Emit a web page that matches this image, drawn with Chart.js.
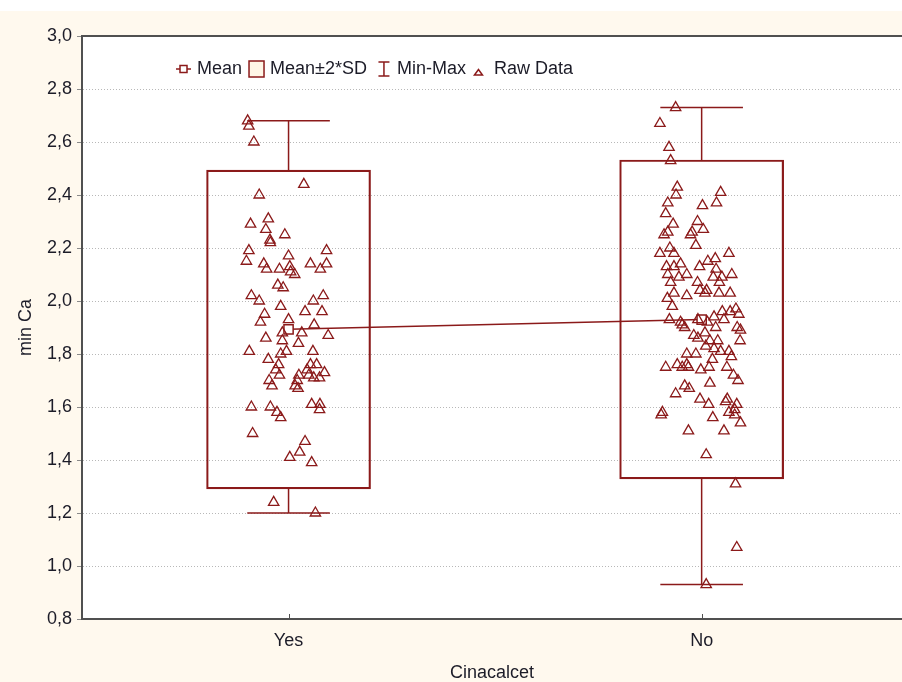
<!DOCTYPE html>
<html>
<head>
<meta charset="utf-8">
<script src="https://cdn.jsdelivr.net/npm/chart.js@4.4.1/dist/chart.umd.min.js"></script>
<style>
html, body { margin: 0; padding: 0; background: #fff; }
#wrap { position: absolute; left: 0; top: 11px; width: 902px; height: 671px; background: #fff9ee; }
</style>
</head>
<body>
<div id="wrap"><canvas id="chart"></canvas></div>
<script>
// summary values per group
var categories = ['Yes', 'No'];
var means = [1.893, 1.930];
var sdLow = [1.291, 1.329];    // mean - 2*SD
var sdHigh = [2.494, 2.532];   // mean + 2*SD
var minValues = [1.20, 0.93];
var maxValues = [2.68, 2.73];

// raw data: horizontal jitter (in category units) and value
var yesJitter = [-0.099, -0.096, -0.084, 0.037, -0.071, -0.092, -0.049, -0.055, -0.009, -0.045,
    -0.044, -0.096, 0.092, -0.102, 0.000, -0.060, -0.053, -0.022, 0.003, 0.005,
    0.015, 0.053, 0.077, 0.092, -0.026, -0.013, -0.090, -0.071, 0.084, 0.060,
    -0.019, -0.058, 0.040, 0.081, -0.068, 0.000, 0.062, 0.032, 0.096, -0.015,
    -0.015, -0.055, 0.024, -0.095, -0.005, -0.019, 0.059, -0.049, -0.024, 0.053,
    0.068, -0.031, -0.022, 0.045, 0.025, 0.049, 0.061, 0.075, 0.087, -0.047,
    -0.040, 0.021, 0.016, 0.023, -0.090, -0.044, -0.028, -0.019, 0.056, 0.076,
    0.075, -0.087, 0.040, 0.027, 0.003, 0.056, -0.036, 0.065];
var yesValues = [2.68, 2.66, 2.60, 2.44, 2.40, 2.29, 2.31, 2.27, 2.25, 2.23,
    2.22, 2.19, 2.19, 2.15, 2.17, 2.14, 2.12, 2.12, 2.13, 2.11,
    2.10, 2.14, 2.12, 2.14, 2.06, 2.05, 2.02, 2.00, 2.02, 2.00,
    1.98, 1.95, 1.96, 1.96, 1.92, 1.93, 1.91, 1.88, 1.87, 1.88,
    1.85, 1.86, 1.84, 1.81, 1.81, 1.80, 1.81, 1.78, 1.76, 1.76,
    1.76, 1.74, 1.72, 1.74, 1.72, 1.72, 1.71, 1.71, 1.73, 1.70,
    1.68, 1.70, 1.68, 1.67, 1.60, 1.60, 1.58, 1.56, 1.61, 1.61,
    1.59, 1.50, 1.47, 1.43, 1.41, 1.39, 1.24, 1.20];

var noJitter = [-0.063, -0.101, -0.079, -0.075, -0.059, -0.062, 0.046, 0.036, -0.082, 0.002,
    -0.087, -0.010, -0.069, -0.082, -0.091, -0.023, 0.004, -0.027, -0.014, -0.101,
    -0.077, -0.067, 0.066, -0.085, -0.067, -0.051, -0.005, 0.015, 0.033, 0.035,
    0.073, -0.082, -0.055, -0.036, 0.028, 0.049, -0.010, -0.075, 0.043, -0.067,
    -0.083, -0.036, -0.004, 0.012, 0.008, 0.042, 0.069, -0.071, -0.078, -0.051,
    -0.047, -0.041, -0.009, 0.014, 0.030, 0.034, 0.050, 0.054, 0.069, 0.083,
    0.090, 0.086, 0.094, 0.093, -0.019, -0.009, 0.008, 0.020, 0.039, 0.010,
    0.030, 0.046, 0.066, 0.072, -0.036, -0.014, 0.026, -0.087, -0.059, -0.047,
    -0.032, -0.036, -0.002, 0.018, 0.061, 0.077, 0.088, 0.020, -0.041, -0.030,
    -0.063, -0.004, 0.017, 0.062, 0.058, 0.085, 0.080, 0.066, 0.080, 0.094,
    -0.095, -0.098, 0.027, -0.032, 0.054, 0.011, 0.082, 0.085, 0.011];
var noValues = [2.73, 2.67, 2.58, 2.53, 2.43, 2.40, 2.41, 2.37, 2.37, 2.36,
    2.33, 2.30, 2.29, 2.26, 2.25, 2.26, 2.27, 2.25, 2.21, 2.18,
    2.20, 2.18, 2.18, 2.13, 2.13, 2.14, 2.13, 2.15, 2.16, 2.12,
    2.10, 2.10, 2.09, 2.10, 2.09, 2.09, 2.07, 2.07, 2.07, 2.03,
    2.01, 2.02, 2.04, 2.04, 2.03, 2.03, 2.03, 1.98, 1.93, 1.92,
    1.91, 1.90, 1.93, 1.92, 1.94, 1.90, 1.96, 1.93, 1.96, 1.97,
    1.95, 1.90, 1.89, 1.85, 1.87, 1.86, 1.88, 1.85, 1.85, 1.83,
    1.82, 1.81, 1.81, 1.79, 1.80, 1.80, 1.78, 1.75, 1.76, 1.75,
    1.75, 1.76, 1.74, 1.75, 1.75, 1.72, 1.70, 1.69, 1.68, 1.67,
    1.65, 1.63, 1.61, 1.63, 1.62, 1.61, 1.59, 1.58, 1.57, 1.54,
    1.58, 1.57, 1.56, 1.51, 1.51, 1.42, 1.31, 1.07, 0.93];

var RED = '#8b1a1a';
var TEXT = '#1c1c28';
var FONT = '"Liberation Sans", Arial, sans-serif';
var FONT_SIZE = 18;
var CAP_HALF = 0.1;

function rawPoints(){
    var pts = [];
    var groups = [[yesJitter, yesValues], [noJitter, noValues]];
    groups.forEach(function(g, i){
        for (var k = 0; k < g[1].length; k++) {
            pts.push({x: i + 1 + g[0][k], y: g[1][k]});
        }
    });
    return pts;
}

function whiskerPoints(){
    var pts = [];
    categories.forEach(function(c, i){
        var cx = i + 1;
        pts.push({x: cx, y: sdHigh[i]}, {x: cx, y: maxValues[i]}, {x: cx, y: null});
        pts.push({x: cx - CAP_HALF, y: maxValues[i]}, {x: cx + CAP_HALF, y: maxValues[i]}, {x: cx, y: null});
        pts.push({x: cx, y: sdLow[i]}, {x: cx, y: minValues[i]}, {x: cx, y: null});
        pts.push({x: cx - CAP_HALF, y: minValues[i]}, {x: cx + CAP_HALF, y: minValues[i]}, {x: cx, y: null});
    });
    return pts;
}

var plotFrame = {
    id: 'plotFrame',
    beforeDraw: function(chart){
        var ctx = chart.ctx, a = chart.chartArea;
        ctx.save();
        ctx.fillStyle = '#ffffff';
        ctx.fillRect(a.left, a.top, a.right - a.left, a.bottom - a.top);
        ctx.restore();
    },
    afterDraw: function(chart){
        var ctx = chart.ctx, a = chart.chartArea;
        ctx.save();
        ctx.strokeStyle = '#505050';
        ctx.lineWidth = 2;
        ctx.beginPath();
        ctx.moveTo(a.left - 1, a.top);
        ctx.lineTo(a.right, a.top);
        ctx.stroke();
        // inward ticks on the category axis
        ctx.lineWidth = 1;
        var xs = chart.scales.x;
        xs.ticks.forEach(function(t){
            var px = Math.round(xs.getPixelForValue(t.value)) + 0.5;
            ctx.beginPath();
            ctx.moveTo(px, a.bottom);
            ctx.lineTo(px, a.bottom - 5);
            ctx.stroke();
        });
        ctx.restore();
    }
};

var statLegend = {
    id: 'statLegend',
    afterDraw: function(chart){
        var ctx = chart.ctx, a = chart.chartArea;
        var x = a.left + 94, cy = a.top + 33;
        ctx.save();
        ctx.font = FONT_SIZE + 'px ' + FONT;
        ctx.textBaseline = 'middle';
        ctx.strokeStyle = RED;
        ctx.lineWidth = 1.5;
        var names = ['Mean', 'Mean±2*SD', 'Min-Max', 'Raw Data'];
        var icons = [
            {w: 15, gap: 6, after: 7, draw: function(x0){
                ctx.beginPath(); ctx.moveTo(x0, cy); ctx.lineTo(x0 + 15, cy); ctx.stroke();
                ctx.fillStyle = '#fff';
                ctx.fillRect(x0 + 4, cy - 3.5, 7, 7);
                ctx.strokeRect(x0 + 4, cy - 3.5, 7, 7);
            }},
            {w: 16, gap: 5, after: 10, draw: function(x0){
                ctx.fillStyle = '#fff6e6';
                ctx.fillRect(x0, cy - 8, 15, 16);
                ctx.strokeRect(x0, cy - 8, 15, 16);
            }},
            {w: 14, gap: 6, after: 8, draw: function(x0){
                ctx.beginPath();
                ctx.moveTo(x0 + 7, cy - 7); ctx.lineTo(x0 + 7, cy + 7);
                ctx.moveTo(x0 + 1.5, cy - 7); ctx.lineTo(x0 + 12.5, cy - 7);
                ctx.moveTo(x0 + 1.5, cy + 7); ctx.lineTo(x0 + 12.5, cy + 7);
                ctx.stroke();
            }},
            {w: 9, gap: 11, after: 0, draw: function(x0){
                ctx.beginPath();
                ctx.moveTo(x0 + 4.5, cy + 0.5);
                ctx.lineTo(x0 + 8.5, cy + 6);
                ctx.lineTo(x0 + 0.5, cy + 6);
                ctx.closePath();
                ctx.stroke();
            }}
        ];
        names.forEach(function(n, i){
            icons[i].draw(x);
            x += icons[i].w + icons[i].gap;
            ctx.fillStyle = TEXT;
            ctx.fillText(n, x, cy);
            x += ctx.measureText(n).width + icons[i].after;
        });
        ctx.restore();
    }
};

var chart = new Chart(document.getElementById('chart'), {
    type: 'scatter',
    data: {
        datasets: [
            {
                type: 'scatter',
                label: 'Raw Data',
                data: rawPoints(),
                pointStyle: 'triangle',
                pointRadius: 6,
                pointBorderWidth: 1.3,
                borderColor: RED,
                backgroundColor: 'rgba(0,0,0,0)',
                order: 1
            },
            {
                type: 'line',
                label: 'Mean',
                data: categories.map(function(c, i){ return {x: i + 1, y: means[i]}; }),
                borderColor: RED,
                borderWidth: 1.5,
                tension: 0,
                pointStyle: 'rect',
                pointRadius: 6.5,
                pointBackgroundColor: '#fff',
                pointBorderColor: RED,
                pointBorderWidth: 1.5,
                order: 2
            },
            {
                type: 'line',
                label: 'Min-Max',
                data: whiskerPoints(),
                borderColor: RED,
                borderWidth: 1.5,
                pointRadius: 0,
                spanGaps: false,
                order: 3
            },
            {
                type: 'bar',
                label: 'Mean±2*SD',
                data: categories.map(function(c, i){ return {x: i + 1, y: [sdLow[i], sdHigh[i]]}; }),
                backgroundColor: 'rgba(0,0,0,0)',
                borderColor: RED,
                borderWidth: 1.5,
                borderSkipped: false,
                barThickness: 164,
                grouped: false,
                order: 4
            }
        ]
    },
    options: {
        responsive: true,
        maintainAspectRatio: false,
        animation: false,
        events: [],
        layout: { autoPadding: false, padding: { top: 25, left: 0, right: 0, bottom: 0 } },
        plugins: {
            legend: { display: false },
            tooltip: { enabled: false }
        },
        scales: {
            x: {
                type: 'linear',
                min: 0.5,
                max: 2.485,
                offset: false,
                afterBuildTicks: function(scale){
                    scale.ticks = categories.map(function(c, i){ return {value: i + 1}; });
                },
                ticks: {
                    autoSkip: false,
                    maxRotation: 0,
                    padding: 11,
                    color: TEXT,
                    font: { size: FONT_SIZE, family: FONT },
                    callback: function(v){ return categories[v - 1]; }
                },
                grid: { display: false, drawTicks: false },
                border: { color: '#505050', width: 2 },
                title: {
                    display: true,
                    text: 'Cinacalcet',
                    color: TEXT,
                    font: { size: FONT_SIZE, family: FONT },
                    padding: { top: 0, bottom: -2 }
                },
                afterFit: function(scale){ scale.height = 63; }
            },
            y: {
                min: 0.8,
                max: 3.0,
                ticks: {
                    stepSize: 0.2,
                    padding: 5,
                    color: TEXT,
                    font: { size: FONT_SIZE, family: FONT },
                    callback: function(v){ return v.toFixed(1).replace('.', ','); }
                },
                grid: {
                    color: function(c){
                        var v = c.tick ? c.tick.value : 0;
                        return (Math.abs(v - 0.8) < 1e-6 || Math.abs(v - 3.0) < 1e-6) ? 'rgba(0,0,0,0)' : '#b8b8b8';
                    },
                    tickColor: '#8a8a8a',
                    tickLength: 5
                },
                border: { color: '#505050', width: 2, dash: [1, 2] },
                title: {
                    display: true,
                    text: 'min Ca',
                    color: TEXT,
                    font: { size: FONT_SIZE, family: FONT },
                    padding: { top: 15, bottom: 0 }
                },
                afterFit: function(scale){ scale.width = 82; }
            }
        }
    },
    plugins: [plotFrame, statLegend]
});
</script>
</body>
</html>
